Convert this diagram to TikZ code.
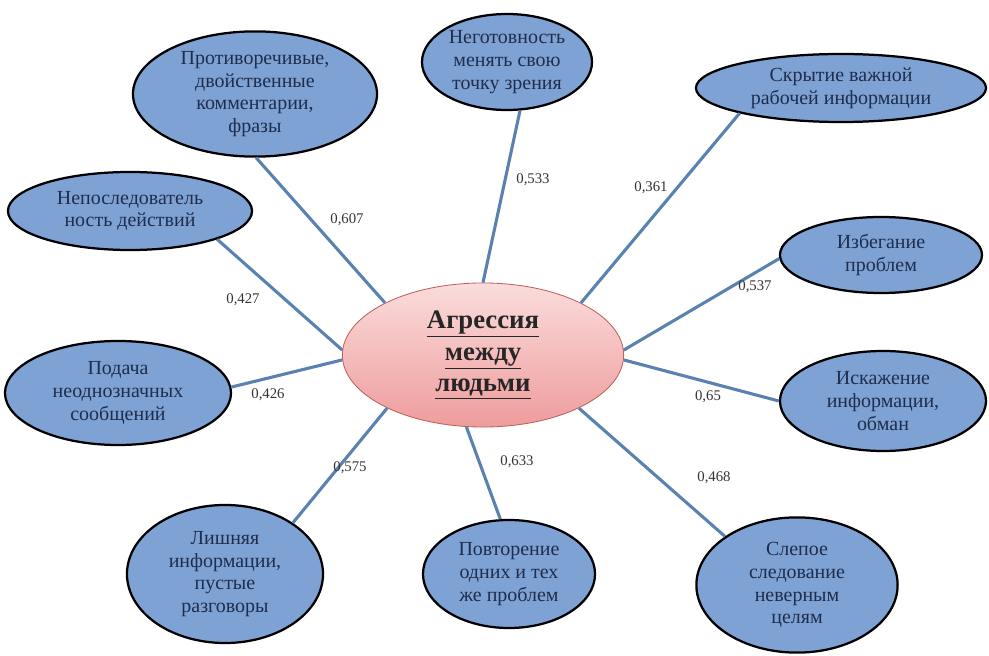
\documentclass[tikz,border=0pt]{standalone}
\usepackage{fontspec}
\setmainfont{Liberation Serif}
\usetikzlibrary{shapes.geometric}
\definecolor{factorfill}{HTML}{7FA2D4}
\definecolor{factortext}{HTML}{1E2D4D}
\definecolor{linkblue}{HTML}{5A82B0}
\definecolor{centretop}{HTML}{FBDCDC}
\definecolor{centrebot}{HTML}{EE9C9C}
\definecolor{centreline}{HTML}{C0605D}
\begin{document}
\begin{tikzpicture}[x=0.025cm, y=-0.025cm,
	factor/.style={ellipse, draw=black, line width=1.6pt, fill=factorfill, text=factortext,
		inner sep=0pt, align=center, font=\fontsize{14.2}{16.2}\selectfont},
	centre/.style={ellipse, draw=centreline, line width=0.6pt, top color=centretop, bottom color=centrebot,
		inner sep=0pt, align=center, font=\fontsize{19}{22.5}\selectfont\bfseries, text=black!85},
	link/.style={draw=linkblue, line width=2.2pt},
	weight/.style={font=\fontsize{10.5}{12}\selectfont, text=black!80}]
	\useasboundingbox (0,0) rectangle (989,656);
	\node (C)   at (483, 355)	[centre, minimum width=7.03cm, minimum height=3.6cm]	{\underline{Агрессия}\\ \underline{между}\\ \underline{людьми}};
	\node (P1)  at (255,  94)	[factor, minimum width=6.1cm,  minimum height=3.13cm]	{Противоречивые,\\ двойственные\\ комментарии,\\ фразы};
	\node (P2)  at (507,  62)	[factor, minimum width=4.25cm, minimum height=2.4cm]	{Неготовность\\ менять свою\\ точку зрения};
	\node (P3)  at (841,  88)	[factor, minimum width=7.25cm, minimum height=1.7cm]	{Скрытие важной\\ рабочей информации};
	\node (P4)  at (130, 211)	[factor, minimum width=6.1cm,  minimum height=1.95cm]	{Непоследователь\\ ность действий};
	\node (P5)  at (881, 255)	[factor, minimum width=5.05cm, minimum height=1.9cm]	{Избегание\\ проблем};
	\node (P6)  at (883, 401)	[factor, minimum width=5.15cm, minimum height=2.5cm]	{Искажение\\ информации,\\ обман};
	\node (P7)  at (118, 393)	[factor, minimum width=5.65cm, minimum height=2.6cm]	{Подача\\ неоднозначных\\ сообщений};
	\node (P8)  at (225, 574)	[factor, minimum width=4.9cm,  minimum height=3.45cm]	{Лишняя\\ информации,\\ пустые\\ разговоры};
	\node (P9)  at (509, 574)	[factor, minimum width=4.3cm,  minimum height=2.7cm]	{Повторение\\ одних и тех\\ же проблем};
	\node (P10) at (797, 585)	[factor, minimum width=5.03cm, minimum height=3.38cm]	{Слепое\\ следование\\ неверным\\ целям};
	\draw [link] (C.152)  -- (P1.-89);
	\draw [link] (C.90)   -- (P2.-75);
	\draw [link] (C.28)   -- (P3.194);
	\draw [link] (C.178)  -- (P4.-18);
	\draw [link] (C.2)    -- (P5.182);
	\draw [link] (C.-2)   -- (P6.180);
	\draw [link] (C.182)  -- (P7.3);
	\draw [link] (C.209)  -- (P8.37);
	\draw [link] (C.257)  -- (P9.99);
	\draw [link] (C.-29)  -- (P10.146);
	\node (W1)  at (347, 220)	[weight]	{0,607};
	\node (W2)  at (533, 180)	[weight]	{0,533};
	\node (W3)  at (651, 188)	[weight]	{0,361};
	\node (W4)  at (243, 300)	[weight]	{0,427};
	\node (W5)  at (755, 287)	[weight]	{0,537};
	\node (W6)  at (268, 395)	[weight]	{0,426};
	\node (W7)  at (708, 397)	[weight]	{0,65};
	\node (W8)  at (350, 468)	[weight]	{0,575};
	\node (W9)  at (517, 462)	[weight]	{0,633};
	\node (W10) at (714, 478)	[weight]	{0,468};
\end{tikzpicture}
\end{document}
